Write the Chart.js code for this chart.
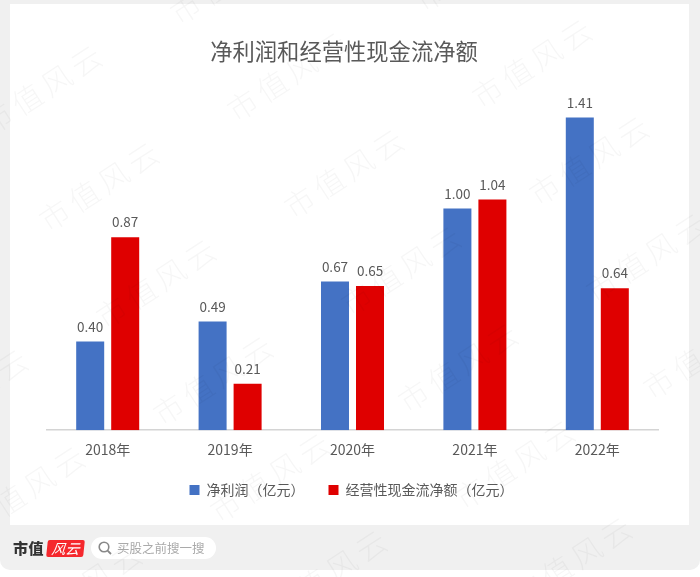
<!DOCTYPE html>
<html lang="zh">
<head>
<meta charset="utf-8">
<script src="https://cdn.jsdelivr.net/npm/chart.js@4/dist/chart.umd.min.js"></script>
<style>
  html, body { margin: 0; padding: 0; background: #fff; }
  body { width: 700px; height: 577px; overflow: hidden; position: relative; font-family: "Noto Sans CJK SC", sans-serif; }
  .frame { position: absolute; left: 0; top: 0; width: 700px; height: 570px; background: #f0f0f0; border-radius: 0 0 10px 10px; }
  .panel { position: absolute; left: 10px; top: 4px; width: 679px; height: 521px; background: #fff; }
  canvas { position: absolute; left: 0; top: 0; }
  .brand { position: absolute; left: 13px; top: 538px; font-size: 15px; line-height: 20px; font-weight: 900; color: #333; letter-spacing: 0.5px; }
  .logo { position: absolute; left: 47px; top: 540px; width: 37px; height: 17px; background: #f5282d; border-radius: 2px; color: #fff; font-size: 14px; line-height: 17px; text-align: center; font-style: italic; transform: skewX(-6deg); }
  .search { position: absolute; left: 91px; top: 537px; width: 125px; height: 22px; background: #fff; border-radius: 11px; }
  .search svg { position: absolute; left: 6px; top: 3px; }
  .search span { position: absolute; left: 26px; top: 0; font-size: 12.5px; line-height: 22px; color: #aaa; white-space: nowrap; }
  #marks { position: absolute; left: 0; top: 0; width: 700px; height: 577px; overflow: hidden; pointer-events: none; }
  #marks div { position: absolute; width: 160px; margin-left: -80px; margin-top: -20px; line-height: 40px; text-align: center; white-space: nowrap; font-size: 30px; font-weight: 300; letter-spacing: 5px; color: rgba(0, 0, 0, 0.035); transform: rotate(-33deg); }
</style>
</head>
<body>
<div class="frame"><div class="panel"></div></div>
<canvas id="grafico" width="700" height="577"></canvas>
<div class="brand">市值</div>
<div class="logo">风云</div>
<div class="search">
  <svg width="16" height="16" viewBox="0 0 16 16"><circle cx="7" cy="7" r="4.8" fill="none" stroke="#888" stroke-width="1.6"/><line x1="10.6" y1="10.6" x2="14" y2="14" stroke="#888" stroke-width="1.8"/></svg>
  <span>买股之前搜一搜</span>
</div>
<div id="marks"></div>
<script>
const titulo = '净利润和经营性现金流净额';
const anos = ['2018年', '2019年', '2020年', '2021年', '2022年'];
const lucro = [0.40, 0.49, 0.67, 1.00, 1.41];
const fluxo = [0.87, 0.21, 0.65, 1.04, 0.64];
const nomeLucro = '净利润（亿元）';
const nomeFluxo = '经营性现金流净额（亿元）';

const fonte = '"Noto Sans CJK SC", sans-serif';
const cinza = '#595959';

// watermark, repeated on a slanted grid
const marks = document.getElementById('marks');
for (let i = -2; i < 5; i++) {
  for (let j = -1; j < 6; j++) {
    const x = 43 + i * 245 + j * 57;
    const y = 87 - i * 13 + j * 97;
    if (x < -90 || x > 790 || y < -60 || y > 640) continue;
    const el = document.createElement('div');
    el.textContent = '市值风云';
    el.style.left = x + 'px';
    el.style.top = y + 'px';
    marks.appendChild(el);
  }
}

// title and legend are not centred on the plot area in the original
const ajustes = {
  id: 'ajustes',
  afterLayout(chart) {
    chart.titleBlock.left -= 8.5;
    chart.titleBlock.right -= 8.5;
    chart.legend.left -= 1;
    chart.legend.right -= 1;
    chart.legend.top -= 2;
    chart.legend.bottom -= 2;
  }
};

const rotulos = {
  id: 'rotulos',
  afterDatasetsDraw(chart) {
    const ctx = chart.ctx;
    ctx.save();
    ctx.font = '13.5px ' + fonte;
    ctx.fillStyle = cinza;
    ctx.textAlign = 'center';
    ctx.textBaseline = 'middle';
    chart.data.datasets.forEach((ds, i) => {
      chart.getDatasetMeta(i).data.forEach((bar, k) => {
        ctx.fillText(ds.data[k].toFixed(2), bar.x, bar.y - 15);
      });
    });
    ctx.restore();
  }
};

new Chart(document.getElementById('grafico'), {
  type: 'bar',
  data: {
    labels: anos,
    datasets: [
      { label: nomeLucro, data: lucro, backgroundColor: '#4472C4' },
      { label: nomeFluxo, data: fluxo, backgroundColor: '#DF0000' }
    ]
  },
  options: {
    responsive: false,
    animation: false,
    layout: { padding: { left: 46.5, right: 41.5, top: 0, bottom: 68 } },
    datasets: { bar: { categoryPercentage: 0.572, barPercentage: 0.8 } },
    scales: {
      x: {
        grid: { display: false },
        border: { color: '#D4D4D4', width: 1.5 },
        ticks: { color: cinza, padding: 3, font: { family: fonte, size: 14 } }
      },
      y: { display: false, min: 0, max: 1.6 }
    },
    plugins: {
      title: {
        display: true,
        text: titulo,
        color: cinza,
        font: { family: fonte, size: 22.3, weight: 'normal' },
        padding: { top: 38, bottom: 10.6 }
      },
      legend: {
        position: 'bottom',
        labels: {
          boxWidth: 10,
          boxHeight: 10,
          padding: 24,
          color: cinza,
          font: { family: fonte, size: 14 }
        }
      },
      tooltip: { enabled: false }
    }
  },
  plugins: [ajustes, rotulos]
});
</script>
</body>
</html>
